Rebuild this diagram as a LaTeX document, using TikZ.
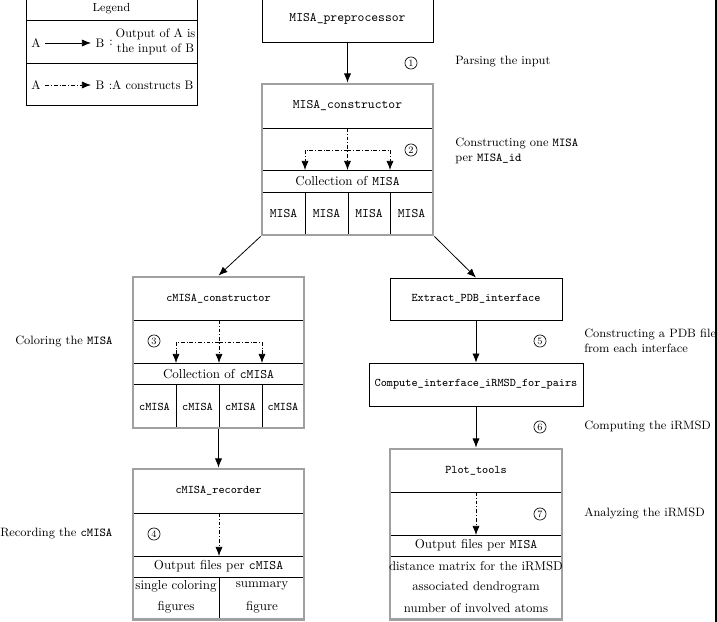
\documentclass[tikz,border=0pt]{standalone}
\usetikzlibrary{arrows.meta,fit}
\definecolor{boxgray}{RGB}{160,160,160}
\tikzset{
  arr/.style={line width=0.6pt,-{Latex[length=7pt,width=5.5pt]}},
  cons/.style={arr,dash pattern=on 3pt off 1.5pt on 0.6pt off 1.5pt},
  gbox/.style={draw=boxgray,line width=2.2pt,inner sep=0pt},
  bbox/.style={draw,line width=0.6pt,inner sep=0pt},
  thinline/.style={line width=0.6pt},
  lab/.style={anchor=west,inner sep=0pt,font=\fontsize{9.3}{11.5}\selectfont},
  leg/.style={font=\fontsize{9.5}{11.5}\selectfont},
  num/.style={circle,draw,line width=0.5pt,inner sep=0pt,minimum size=9.3pt,font=\fontsize{7.5}{7.5}\selectfont},
}
\begin{document}
\begin{tikzpicture}[x=0.7692pt,y=-0.7692pt]
\useasboundingbox (0,0) rectangle (717,621);

% ---------------- Legend ----------------
\node[bbox,fit={(26,-25) (197,105)}] (legend) {};
\draw[thinline] (26,20) -- (197,20);
\draw[thinline] (26,63) -- (197,63);
\node (legtitle) at (111.5,9) {\small Legend};
\node[leg] (la1) at (36,43) {A};
\node[leg] (lb1) at (100,43) {B};
\draw[arr] (la1) -- (lb1);
\node[leg] (lc1) at (111,43) {:};
\node[leg,align=center,inner sep=0pt] (lt1) at (155.5,41.5) {Output of A is\\the input of B};
\node[leg] (la2) at (36,85) {A};
\node[leg] (lb2) at (100,85) {B};
\draw[cons] (la2) -- (lb2);
\node[leg,anchor=west,inner sep=0pt] (lt2) at (108.5,85) {:A constructs B};

% ---------------- MISA_preprocessor ----------------
\node[bbox,fit={(262,-1) (433,42)}] (pre) {};
\node (pretxt) at (347.5,19) {\texttt{MISA\_preprocessor}};

\node[num] (n1) at (411,63) {1};
\node[lab] (t1) at (455,62) {Parsing the input};

% ---------------- MISA_constructor ----------------
\draw[thinline] (262,128) -- (433,128);
\draw[thinline] (262,170) -- (433,170);
\draw[thinline] (262,192) -- (433,192);
\draw[thinline] (305,192) -- (305,235);
\draw[thinline] (348,192) -- (348,235);
\draw[thinline] (390,192) -- (390,235);
\node[gbox,fit={(262,84) (433,235)}] (mc) {};
\node (mctxt) at (347.5,106) {\texttt{MISA\_constructor}};
\node (mccol) at (347.5,181.5) {Collection of \texttt{MISA}};
\node (m1) at (283.5,213.5) {\texttt{MISA}};
\node (m2) at (326.5,213.5) {\texttt{MISA}};
\node (m3) at (369,213.5) {\texttt{MISA}};
\node (m4) at (411.5,213.5) {\texttt{MISA}};
\coordinate (mcs) at (347.5,128);
\coordinate (mcl) at (305,150);
\coordinate (mcm) at (347.5,150);
\coordinate (mcr) at (390,150);
\coordinate (mcla) at (305,170);
\coordinate (mcma) at (347.5,170);
\coordinate (mcra) at (390,170);
\draw[cons] (mcs) -- (mcma);
\draw[cons] (mcm) -- (mcl) -- (mcla);
\draw[cons] (mcm) -- (mcr) -- (mcra);
\node[num] (n2) at (411,150) {2};
\node[lab,align=left] (t2) at (455,150.5) {Constructing one \texttt{MISA}\\per \texttt{MISA\_id}};

\draw[arr] (pre) -- (mc);

% ---------------- cMISA_constructor ----------------
\draw[thinline] (133,320) -- (304,320);
\draw[thinline] (133,363) -- (304,363);
\draw[thinline] (133,384) -- (304,384);
\draw[thinline] (176,384) -- (176,428);
\draw[thinline] (219,384) -- (219,428);
\draw[thinline] (262,384) -- (262,428);
\node[gbox,fit={(133,277) (304,428)}] (cc) {};
\node (cctxt) at (218.5,298.5) {\small\texttt{cMISA\_constructor}};
\node (cccol) at (218.5,374) {Collection of \texttt{cMISA}};
\node (c1) at (154.5,406.5) {\small\texttt{cMISA}};
\node (c2) at (197.5,406.5) {\small\texttt{cMISA}};
\node (c3) at (240.5,406.5) {\small\texttt{cMISA}};
\node (c4) at (283,406.5) {\small\texttt{cMISA}};
\coordinate (ccs) at (219,320);
\coordinate (ccl) at (176,342);
\coordinate (ccm) at (219,342);
\coordinate (ccr) at (262,342);
\coordinate (ccla) at (176,363);
\coordinate (ccma) at (219,363);
\coordinate (ccra) at (262,363);
\draw[cons] (ccs) -- (ccma);
\draw[cons] (ccm) -- (ccl) -- (ccla);
\draw[cons] (ccm) -- (ccr) -- (ccra);
\node[num] (n3) at (154,341) {3};
\node[lab] (t3) at (15,341) {Coloring the \texttt{MISA}};

% ---------------- cMISA_recorder ----------------
\draw[thinline] (133,513) -- (304,513);
\draw[thinline] (133,556) -- (304,556);
\draw[thinline] (133,577) -- (304,577);
\draw[thinline] (219,577) -- (219,620);
\node[gbox,fit={(133,469) (304,619.5)}] (cr) {};
\node (crtxt) at (218.5,491) {\small\texttt{cMISA\_recorder}};
\node (crout) at (218.5,566.5) {Output files per \texttt{cMISA}};
\node (crs1) at (176,586) {single coloring};
\node (crs2) at (176,607) {figures};
\node (crm1) at (262,586) {summary};
\node (crm2) at (262,607) {figure};
\coordinate (crs) at (219,513);
\coordinate (cra) at (219,556);
\draw[cons] (crs) -- (cra);
\node[num] (n4) at (154,534) {4};
\node[lab] (t4) at (0,534) {Recording the \texttt{cMISA}};

\draw[arr] (mc.south west) -- (cc.north);
\draw[arr] (cc) -- (cr);

% ---------------- Right column ----------------
\node[bbox,fit={(390,278) (562,320)}] (ex) {};
\node (extxt) at (476,298.5) {\small\texttt{Extract\_PDB\_interface}};
\node[bbox,fit={(369,363) (583,406)}] (cp) {};
\node (cptxt) at (476,384.5) {\small\texttt{Compute\_interface\_iRMSD\_for\_pairs}};

\draw[thinline] (390,492) -- (562,492);
\draw[thinline] (390,535) -- (562,535);
\draw[thinline] (390,556) -- (562,556);
\node[gbox,fit={(390,449) (562,619.5)}] (pt) {};
\node (pttxt) at (476,470.5) {\small\texttt{Plot\_tools}};
\node (ptout) at (476,545) {Output files per \texttt{MISA}};
\node[font=\fontsize{9.8}{12}\selectfont] (pto1) at (476,566) {distance matrix for the iRMSD};
\node[font=\fontsize{9.8}{12}\selectfont] (pto2) at (476,587) {associated dendrogram};
\node[font=\fontsize{9.8}{12}\selectfont] (pto3) at (476,608) {number of involved atoms};
\coordinate (pts) at (476,492);
\coordinate (pta) at (476,535);
\draw[cons] (pts) -- (pta);

\draw[arr] (mc.south east) -- (ex.north);
\draw[arr] (ex) -- (cp);
\draw[arr] (cp) -- (pt);

\node[num] (n5) at (540,341) {5};
\node[lab,align=left] (t5) at (584,340.5) {Constructing a PDB file\\from each interface};
\node[num] (n6) at (540,427) {6};
\node[lab] (t6) at (584,426) {Computing the iRMSD};
\node[num] (n7) at (540,514) {7};
\node[lab] (t7) at (584,513) {Analyzing the iRMSD};

\coordinate (rtop) at (716,-5);
\coordinate (rbot) at (716,630);
\draw[line width=0.8pt] (rtop) -- (rbot);
\end{tikzpicture}
\end{document}
